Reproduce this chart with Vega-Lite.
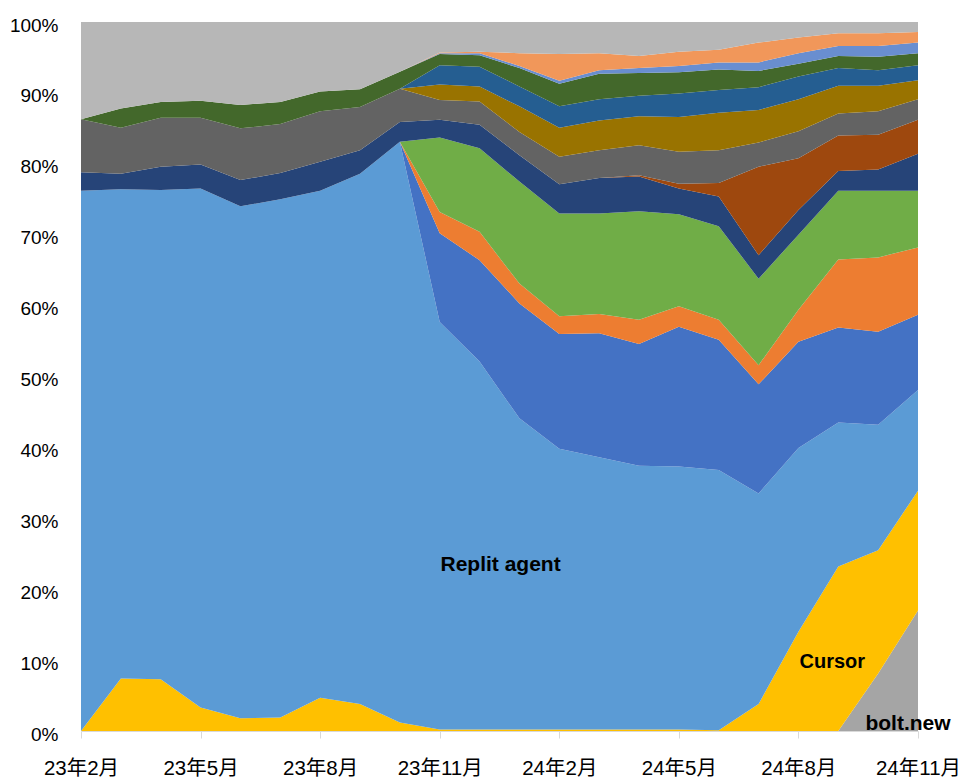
{
"$schema": "https://vega.github.io/schema/vega-lite/v6.json",
"autosize": {"type": "none"},
"width": 837,
"height": 709,
"padding": {"left": 81, "top": 22, "right": 44, "bottom": 47},
"background": "white",
"config": {"view": {"stroke": null}, "font": "Liberation Sans"},
"datasets": {
"shares": [
{"m":"23年2月","s":"bolt.new","v":0},{"m":"23年2月","s":"Cursor","v":0},{"m":"23年2月","s":"Replit agent","v":76.2},{"m":"23年2月","s":"s4","v":0},{"m":"23年2月","s":"s5","v":0},{"m":"23年2月","s":"s6","v":0},{"m":"23年2月","s":"s7","v":2.6},{"m":"23年2月","s":"s8","v":0},{"m":"23年2月","s":"s9","v":7.5},{"m":"23年2月","s":"s10","v":0},{"m":"23年2月","s":"s11","v":0},{"m":"23年2月","s":"s12","v":0},{"m":"23年2月","s":"s13","v":0},{"m":"23年2月","s":"s14","v":0},{"m":"23年2月","s":"s15","v":13.7},
{"m":"23年3月","s":"bolt.new","v":0},{"m":"23年3月","s":"Cursor","v":7.4},{"m":"23年3月","s":"Replit agent","v":69.0},{"m":"23年3月","s":"s4","v":0},{"m":"23年3月","s":"s5","v":0},{"m":"23年3月","s":"s6","v":0},{"m":"23年3月","s":"s7","v":2.2},{"m":"23年3月","s":"s8","v":0},{"m":"23年3月","s":"s9","v":6.5},{"m":"23年3月","s":"s10","v":0},{"m":"23年3月","s":"s11","v":0},{"m":"23年3月","s":"s12","v":2.7},{"m":"23年3月","s":"s13","v":0},{"m":"23年3月","s":"s14","v":0},{"m":"23年3月","s":"s15","v":12.2},
{"m":"23年4月","s":"bolt.new","v":0},{"m":"23年4月","s":"Cursor","v":7.3},{"m":"23年4月","s":"Replit agent","v":69.0},{"m":"23年4月","s":"s4","v":0},{"m":"23年4月","s":"s5","v":0},{"m":"23年4月","s":"s6","v":0},{"m":"23年4月","s":"s7","v":3.3},{"m":"23年4月","s":"s8","v":0},{"m":"23年4月","s":"s9","v":6.9},{"m":"23年4月","s":"s10","v":0},{"m":"23年4月","s":"s11","v":0},{"m":"23年4月","s":"s12","v":2.2},{"m":"23年4月","s":"s13","v":0},{"m":"23年4月","s":"s14","v":0},{"m":"23年4月","s":"s15","v":11.3},
{"m":"23年5月","s":"bolt.new","v":0},{"m":"23年5月","s":"Cursor","v":3.3},{"m":"23年5月","s":"Replit agent","v":73.2},{"m":"23年5月","s":"s4","v":0},{"m":"23年5月","s":"s5","v":0},{"m":"23年5月","s":"s6","v":0},{"m":"23年5月","s":"s7","v":3.4},{"m":"23年5月","s":"s8","v":0},{"m":"23年5月","s":"s9","v":6.6},{"m":"23年5月","s":"s10","v":0},{"m":"23年5月","s":"s11","v":0},{"m":"23年5月","s":"s12","v":2.4},{"m":"23年5月","s":"s13","v":0},{"m":"23年5月","s":"s14","v":0},{"m":"23年5月","s":"s15","v":11.1},
{"m":"23年6月","s":"bolt.new","v":0},{"m":"23年6月","s":"Cursor","v":1.8},{"m":"23年6月","s":"Replit agent","v":72.2},{"m":"23年6月","s":"s4","v":0},{"m":"23年6月","s":"s5","v":0},{"m":"23年6月","s":"s6","v":0},{"m":"23年6月","s":"s7","v":3.7},{"m":"23年6月","s":"s8","v":0},{"m":"23年6月","s":"s9","v":7.3},{"m":"23年6月","s":"s10","v":0},{"m":"23年6月","s":"s11","v":0},{"m":"23年6月","s":"s12","v":3.3},{"m":"23年6月","s":"s13","v":0},{"m":"23年6月","s":"s14","v":0},{"m":"23年6月","s":"s15","v":11.7},
{"m":"23年7月","s":"bolt.new","v":0},{"m":"23年7月","s":"Cursor","v":1.9},{"m":"23年7月","s":"Replit agent","v":73.1},{"m":"23年7月","s":"s4","v":0},{"m":"23年7月","s":"s5","v":0},{"m":"23年7月","s":"s6","v":0},{"m":"23年7月","s":"s7","v":3.7},{"m":"23年7月","s":"s8","v":0},{"m":"23年7月","s":"s9","v":6.9},{"m":"23年7月","s":"s10","v":0},{"m":"23年7月","s":"s11","v":0},{"m":"23年7月","s":"s12","v":3.1},{"m":"23年7月","s":"s13","v":0},{"m":"23年7月","s":"s14","v":0},{"m":"23年7月","s":"s15","v":11.3},
{"m":"23年8月","s":"bolt.new","v":0},{"m":"23年8月","s":"Cursor","v":4.7},{"m":"23年8月","s":"Replit agent","v":71.5},{"m":"23年8月","s":"s4","v":0},{"m":"23年8月","s":"s5","v":0},{"m":"23年8月","s":"s6","v":0},{"m":"23年8月","s":"s7","v":4.1},{"m":"23年8月","s":"s8","v":0},{"m":"23年8月","s":"s9","v":7.1},{"m":"23年8月","s":"s10","v":0},{"m":"23年8月","s":"s11","v":0},{"m":"23年8月","s":"s12","v":2.8},{"m":"23年8月","s":"s13","v":0},{"m":"23年8月","s":"s14","v":0},{"m":"23年8月","s":"s15","v":9.8},
{"m":"23年9月","s":"bolt.new","v":0},{"m":"23年9月","s":"Cursor","v":3.8},{"m":"23年9月","s":"Replit agent","v":74.8},{"m":"23年9月","s":"s4","v":0},{"m":"23年9月","s":"s5","v":0},{"m":"23年9月","s":"s6","v":0},{"m":"23年9月","s":"s7","v":3.3},{"m":"23年9月","s":"s8","v":0},{"m":"23年9月","s":"s9","v":6.1},{"m":"23年9月","s":"s10","v":0},{"m":"23年9月","s":"s11","v":0},{"m":"23年9月","s":"s12","v":2.5},{"m":"23年9月","s":"s13","v":0},{"m":"23年9月","s":"s14","v":0},{"m":"23年9月","s":"s15","v":9.5},
{"m":"23年10月","s":"bolt.new","v":0},{"m":"23年10月","s":"Cursor","v":1.2},{"m":"23年10月","s":"Replit agent","v":81.9},{"m":"23年10月","s":"s4","v":0},{"m":"23年10月","s":"s5","v":0},{"m":"23年10月","s":"s6","v":0},{"m":"23年10月","s":"s7","v":2.8},{"m":"23年10月","s":"s8","v":0},{"m":"23年10月","s":"s9","v":4.7},{"m":"23年10月","s":"s10","v":0},{"m":"23年10月","s":"s11","v":0},{"m":"23年10月","s":"s12","v":2.4},{"m":"23年10月","s":"s13","v":0},{"m":"23年10月","s":"s14","v":0},{"m":"23年10月","s":"s15","v":7.0},
{"m":"23年11月","s":"bolt.new","v":0},{"m":"23年11月","s":"Cursor","v":0.2},{"m":"23年11月","s":"Replit agent","v":57.5},{"m":"23年11月","s":"s4","v":12.5},{"m":"23年11月","s":"s5","v":3.0},{"m":"23年11月","s":"s6","v":10.5},{"m":"23年11月","s":"s7","v":2.5},{"m":"23年11月","s":"s8","v":0},{"m":"23年11月","s":"s9","v":2.8},{"m":"23年11月","s":"s10","v":2.2},{"m":"23年11月","s":"s11","v":2.7},{"m":"23年11月","s":"s12","v":1.6},{"m":"23年11月","s":"s13","v":0.1},{"m":"23年11月","s":"s14","v":0.1},{"m":"23年11月","s":"s15","v":4.3},
{"m":"23年12月","s":"bolt.new","v":0},{"m":"23年12月","s":"Cursor","v":0.2},{"m":"23年12月","s":"Replit agent","v":51.9},{"m":"23年12月","s":"s4","v":14.3},{"m":"23年12月","s":"s5","v":4.0},{"m":"23年12月","s":"s6","v":11.8},{"m":"23年12月","s":"s7","v":3.3},{"m":"23年12月","s":"s8","v":0},{"m":"23年12月","s":"s9","v":3.3},{"m":"23年12月","s":"s10","v":2.1},{"m":"23年12月","s":"s11","v":2.8},{"m":"23年12月","s":"s12","v":1.6},{"m":"23年12月","s":"s13","v":0.3},{"m":"23年12月","s":"s14","v":0.2},{"m":"23年12月","s":"s15","v":4.2},
{"m":"24年1月","s":"bolt.new","v":0},{"m":"24年1月","s":"Cursor","v":0.2},{"m":"24年1月","s":"Replit agent","v":43.9},{"m":"24年1月","s":"s4","v":16.2},{"m":"24年1月","s":"s5","v":2.8},{"m":"24年1月","s":"s6","v":14.4},{"m":"24年1月","s":"s7","v":3.7},{"m":"24年1月","s":"s8","v":0},{"m":"24年1月","s":"s9","v":3.3},{"m":"24年1月","s":"s10","v":3.6},{"m":"24年1月","s":"s11","v":2.8},{"m":"24年1月","s":"s12","v":2.6},{"m":"24年1月","s":"s13","v":0.3},{"m":"24年1月","s":"s14","v":1.8},{"m":"24年1月","s":"s15","v":4.4},
{"m":"24年2月","s":"bolt.new","v":0},{"m":"24年2月","s":"Cursor","v":0.2},{"m":"24年2月","s":"Replit agent","v":39.6},{"m":"24年2月","s":"s4","v":16.2},{"m":"24年2月","s":"s5","v":2.5},{"m":"24年2月","s":"s6","v":14.5},{"m":"24年2月","s":"s7","v":4.1},{"m":"24年2月","s":"s8","v":0},{"m":"24年2月","s":"s9","v":3.9},{"m":"24年2月","s":"s10","v":4.1},{"m":"24年2月","s":"s11","v":3.0},{"m":"24年2月","s":"s12","v":3.2},{"m":"24年2月","s":"s13","v":0.4},{"m":"24年2月","s":"s14","v":3.8},{"m":"24年2月","s":"s15","v":4.5},
{"m":"24年3月","s":"bolt.new","v":0},{"m":"24年3月","s":"Cursor","v":0.2},{"m":"24年3月","s":"Replit agent","v":38.4},{"m":"24年3月","s":"s4","v":17.5},{"m":"24年3月","s":"s5","v":2.7},{"m":"24年3月","s":"s6","v":14.2},{"m":"24年3月","s":"s7","v":5.0},{"m":"24年3月","s":"s8","v":0},{"m":"24年3月","s":"s9","v":3.9},{"m":"24年3月","s":"s10","v":4.2},{"m":"24年3月","s":"s11","v":3.0},{"m":"24年3月","s":"s12","v":3.6},{"m":"24年3月","s":"s13","v":0.5},{"m":"24年3月","s":"s14","v":2.4},{"m":"24年3月","s":"s15","v":4.4},
{"m":"24年4月","s":"bolt.new","v":0},{"m":"24年4月","s":"Cursor","v":0.2},{"m":"24年4月","s":"Replit agent","v":37.2},{"m":"24年4月","s":"s4","v":17.2},{"m":"24年4月","s":"s5","v":3.4},{"m":"24年4月","s":"s6","v":15.3},{"m":"24年4月","s":"s7","v":4.9},{"m":"24年4月","s":"s8","v":0.2},{"m":"24年4月","s":"s9","v":4.2},{"m":"24年4月","s":"s10","v":4.1},{"m":"24年4月","s":"s11","v":2.9},{"m":"24年4月","s":"s12","v":3.2},{"m":"24年4月","s":"s13","v":0.7},{"m":"24年4月","s":"s14","v":1.7},{"m":"24年4月","s":"s15","v":4.8},
{"m":"24年5月","s":"bolt.new","v":0},{"m":"24年5月","s":"Cursor","v":0.2},{"m":"24年5月","s":"Replit agent","v":37.1},{"m":"24年5月","s":"s4","v":19.7},{"m":"24年5月","s":"s5","v":2.9},{"m":"24年5月","s":"s6","v":13.0},{"m":"24年5月","s":"s7","v":3.6},{"m":"24年5月","s":"s8","v":0.7},{"m":"24年5月","s":"s9","v":4.5},{"m":"24年5月","s":"s10","v":4.9},{"m":"24年5月","s":"s11","v":3.3},{"m":"24年5月","s":"s12","v":3.0},{"m":"24年5月","s":"s13","v":0.9},{"m":"24年5月","s":"s14","v":2.0},{"m":"24年5月","s":"s15","v":4.2},
{"m":"24年6月","s":"bolt.new","v":0},{"m":"24年6月","s":"Cursor","v":0.1},{"m":"24年6月","s":"Replit agent","v":36.7},{"m":"24年6月","s":"s4","v":18.4},{"m":"24年6月","s":"s5","v":2.8},{"m":"24年6月","s":"s6","v":13.2},{"m":"24年6月","s":"s7","v":4.2},{"m":"24年6月","s":"s8","v":1.9},{"m":"24年6月","s":"s9","v":4.6},{"m":"24年6月","s":"s10","v":5.3},{"m":"24年6月","s":"s11","v":3.2},{"m":"24年6月","s":"s12","v":2.9},{"m":"24年6月","s":"s13","v":1.0},{"m":"24年6月","s":"s14","v":1.8},{"m":"24年6月","s":"s15","v":3.9},
{"m":"24年7月","s":"bolt.new","v":0},{"m":"24年7月","s":"Cursor","v":3.8},{"m":"24年7月","s":"Replit agent","v":29.7},{"m":"24年7月","s":"s4","v":15.4},{"m":"24年7月","s":"s5","v":2.7},{"m":"24年7月","s":"s6","v":12.2},{"m":"24年7月","s":"s7","v":3.3},{"m":"24年7月","s":"s8","v":12.5},{"m":"24年7月","s":"s9","v":3.4},{"m":"24年7月","s":"s10","v":4.6},{"m":"24年7月","s":"s11","v":3.2},{"m":"24年7月","s":"s12","v":2.3},{"m":"24年7月","s":"s13","v":1.2},{"m":"24年7月","s":"s14","v":2.8},{"m":"24年7月","s":"s15","v":2.9},
{"m":"24年8月","s":"bolt.new","v":0},{"m":"24年8月","s":"Cursor","v":14.0},{"m":"24年8月","s":"Replit agent","v":25.9},{"m":"24年8月","s":"s4","v":15.0},{"m":"24年8月","s":"s5","v":4.5},{"m":"24年8月","s":"s6","v":10.6},{"m":"24年8月","s":"s7","v":3.5},{"m":"24年8月","s":"s8","v":7.3},{"m":"24年8月","s":"s9","v":3.8},{"m":"24年8月","s":"s10","v":4.5},{"m":"24年8月","s":"s11","v":3.2},{"m":"24年8月","s":"s12","v":1.8},{"m":"24年8月","s":"s13","v":1.5},{"m":"24年8月","s":"s14","v":2.2},{"m":"24年8月","s":"s15","v":2.2},
{"m":"24年9月","s":"bolt.new","v":0},{"m":"24年9月","s":"Cursor","v":23.2},{"m":"24年9月","s":"Replit agent","v":20.3},{"m":"24年9月","s":"s4","v":13.4},{"m":"24年9月","s":"s5","v":9.6},{"m":"24年9月","s":"s6","v":9.7},{"m":"24年9月","s":"s7","v":2.8},{"m":"24年9月","s":"s8","v":5.0},{"m":"24年9月","s":"s9","v":3.1},{"m":"24年9月","s":"s10","v":3.9},{"m":"24年9月","s":"s11","v":2.5},{"m":"24年9月","s":"s12","v":1.7},{"m":"24年9月","s":"s13","v":1.4},{"m":"24年9月","s":"s14","v":1.8},{"m":"24年9月","s":"s15","v":1.6},
{"m":"24年10月","s":"bolt.new","v":8.1},{"m":"24年10月","s":"Cursor","v":17.4},{"m":"24年10月","s":"Replit agent","v":17.7},{"m":"24年10月","s":"s4","v":13.1},{"m":"24年10月","s":"s5","v":10.5},{"m":"24年10月","s":"s6","v":9.4},{"m":"24年10月","s":"s7","v":3.0},{"m":"24年10月","s":"s8","v":4.9},{"m":"24年10月","s":"s9","v":3.3},{"m":"24年10月","s":"s10","v":3.6},{"m":"24年10月","s":"s11","v":2.2},{"m":"24年10月","s":"s12","v":1.9},{"m":"24年10月","s":"s13","v":1.5},{"m":"24年10月","s":"s14","v":1.8},{"m":"24年10月","s":"s15","v":1.6},
{"m":"24年11月","s":"bolt.new","v":17.0},{"m":"24年11月","s":"Cursor","v":16.9},{"m":"24年11月","s":"Replit agent","v":14.2},{"m":"24年11月","s":"s4","v":10.6},{"m":"24年11月","s":"s5","v":9.5},{"m":"24年11月","s":"s6","v":8.0},{"m":"24年11月","s":"s7","v":5.2},{"m":"24年11月","s":"s8","v":4.8},{"m":"24年11月","s":"s9","v":2.9},{"m":"24年11月","s":"s10","v":2.7},{"m":"24年11月","s":"s11","v":2.1},{"m":"24年11月","s":"s12","v":1.7},{"m":"24年11月","s":"s13","v":1.5},{"m":"24年11月","s":"s14","v":1.5},{"m":"24年11月","s":"s15","v":1.4}
]
},
"layer": [
{
"data": {"name": "shares"},
"transform": [{"calculate": "indexof(['bolt.new','Cursor','Replit agent','s4','s5','s6','s7','s8','s9','s10','s11','s12','s13','s14','s15'], datum.s)", "as": "k"}],
"mark": {"type": "area", "interpolate": "linear"},
"encoding": {
"x": {"field": "m", "type": "ordinal", "sort": null,
"scale": {"type": "point", "padding": 0, "domain": ["23年2月","23年3月","23年4月","23年5月","23年6月","23年7月","23年8月","23年9月","23年10月","23年11月","23年12月","24年1月","24年2月","24年3月","24年4月","24年5月","24年6月","24年7月","24年8月","24年9月","24年10月","24年11月"]},
"axis": {"title": null, "values": ["23年2月","23年5月","23年8月","23年11月","24年2月","24年5月","24年8月","24年11月"], "labelAngle": 0, "labelOverlap": false, "labelFont": "Liberation Sans, Noto Sans CJK JP", "labelFontSize": 20.5, "labelColor": "#000000", "domainColor": "#D9D9D9", "domainWidth": 1, "tickColor": "#D9D9D9", "tickSize": 7, "labelPadding": 20, "grid": false}},
"y": {"field": "v", "type": "quantitative", "stack": "normalize",
"scale": {"domain": [0, 1], "nice": false},
"axis": {"title": null, "values": [0,0.1,0.2,0.3,0.4,0.5,0.6,0.7,0.8,0.9,1], "format": ".0%", "domain": false, "ticks": false, "tickSize": 0, "grid": false, "labelFont": "Liberation Sans", "labelFontSize": 19, "labelColor": "#000000", "labelPadding": 23, "labelOffset": 3}},
"color": {"field": "s", "type": "nominal", "legend": null,
"scale": {"domain": ["bolt.new","Cursor","Replit agent","s4","s5","s6","s7","s8","s9","s10","s11","s12","s13","s14","s15"],
"range": ["#A5A5A5","#FFC000","#5B9BD5","#4472C4","#ED7D31","#70AD47","#264478","#9E480E","#636363","#997300","#255E91","#43682B","#698ED0","#F1975A","#B7B7B7"]}},
"order": {"field": "k", "type": "quantitative", "sort": "ascending"}
}
},
{
"data": {"values": [{"t": "Replit agent", "m": "23年12月", "p": 0.234}]},
"mark": {"type": "text", "fontWeight": "bold", "fontSize": 21, "font": "Liberation Sans", "color": "#000000", "align": "center", "baseline": "middle", "dx": 21},
"encoding": {"x": {"field": "m", "type": "ordinal"}, "y": {"field": "p", "type": "quantitative"}, "text": {"field": "t"}}
},
{
"data": {"values": [{"t": "Cursor", "m": "24年9月", "p": 0.098}]},
"mark": {"type": "text", "fontWeight": "bold", "fontSize": 20, "font": "Liberation Sans", "color": "#000000", "align": "center", "baseline": "middle", "dx": -6},
"encoding": {"x": {"field": "m", "type": "ordinal"}, "y": {"field": "p", "type": "quantitative"}, "text": {"field": "t"}}
},
{
"data": {"values": [{"t": "bolt.new", "m": "24年11月", "p": 0.01}]},
"mark": {"type": "text", "fontWeight": "bold", "fontSize": 21, "font": "Liberation Sans", "color": "#000000", "align": "center", "baseline": "middle", "dx": -10},
"encoding": {"x": {"field": "m", "type": "ordinal"}, "y": {"field": "p", "type": "quantitative"}, "text": {"field": "t"}}
}
]
}
